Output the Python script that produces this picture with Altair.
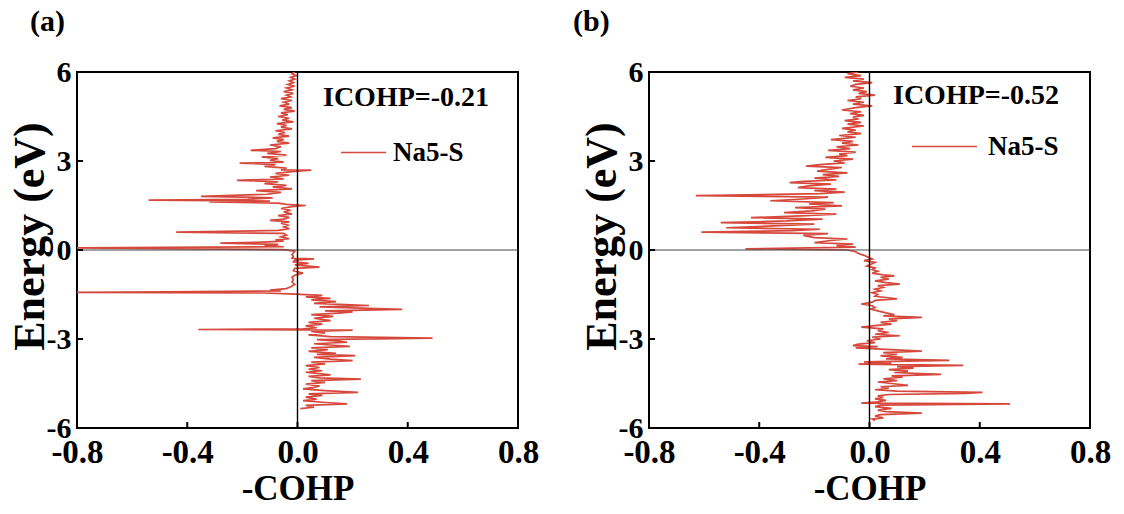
import altair as alt
import pandas as pd

# ---------------- data ----------------
energy_a = [6.00, 5.94, 5.88, 5.82, 5.76, 5.70, 5.64, 5.58, 5.52, 5.46, 5.40, 5.34, 5.28, 5.22, 5.16, 5.10,
            5.04, 4.98, 4.92, 4.86, 4.80, 4.74, 4.68, 4.62, 4.56, 4.50, 4.44, 4.38, 4.32, 4.26, 4.20, 4.14,
            4.08, 4.02, 3.96, 3.90, 3.84, 3.78, 3.72, 3.66, 3.60, 3.54, 3.48, 3.42, 3.36, 3.32, 3.26, 3.20,
            3.14, 3.08, 3.02, 2.96, 2.93, 2.88, 2.82, 2.76, 2.70, 2.69, 2.64, 2.58, 2.52, 2.46, 2.40, 2.35,
            2.30, 2.24, 2.18, 2.12, 2.06, 2.00, 1.94, 1.88, 1.81, 1.76, 1.71, 1.68, 1.65, 1.62, 1.58, 1.54,
            1.50, 1.46, 1.40, 1.34, 1.28, 1.22, 1.16, 1.10, 1.04, 1.00, 0.95, 0.90, 0.84, 0.78, 0.72, 0.66,
            0.60, 0.56, 0.50, 0.44, 0.38, 0.34, 0.30, 0.26, 0.23, 0.19, 0.15, 0.11, 0.07, 0.04, 0.01, -0.04,
            -0.10, -0.16, -0.22, -0.28, -0.30, -0.34, -0.40, -0.45, -0.50, -0.58, -0.62, -0.70, -0.78, -0.85,
            -0.92, -1.00, -1.08, -1.16, -1.24, -1.30, -1.35, -1.38, -1.41, -1.43, -1.45, -1.48, -1.53, -1.58,
            -1.63, -1.68, -1.74, -1.80, -1.87, -1.92, -2.00, -2.05, -2.09, -2.13, -2.18, -2.24, -2.30, -2.38,
            -2.44, -2.50, -2.56, -2.62, -2.66, -2.68, -2.70, -2.74, -2.80, -2.86, -2.92, -2.97, -3.02, -3.07,
            -3.11, -3.16, -3.21, -3.25, -3.30, -3.36, -3.42, -3.48, -3.52, -3.56, -3.62, -3.68, -3.73, -3.78,
            -3.84, -3.90, -3.96, -4.02, -4.07, -4.12, -4.16, -4.21, -4.26, -4.31, -4.35, -4.40, -4.46, -4.52,
            -4.58, -4.63, -4.68, -4.74, -4.80, -4.85, -4.90, -4.96, -5.03, -5.08, -5.14, -5.19, -5.24, -5.30,
            -5.35]
cohp_a = [-0.010, -0.020, -0.005, -0.025, -0.010, -0.030, -0.015, -0.035, -0.010, -0.040, -0.020, -0.050,
          -0.015, -0.040, -0.025, -0.060, -0.020, -0.050, -0.030, -0.065, -0.020, -0.050, -0.010, -0.060,
          -0.035, -0.070, -0.030, -0.055, -0.015, -0.075, -0.040, -0.060, -0.020, -0.080, -0.045, -0.070,
          -0.030, -0.090, -0.050, -0.075, -0.030, -0.100, -0.060, -0.080, -0.170, -0.060, -0.110, -0.040,
          -0.130, -0.070, -0.100, -0.050, -0.210, -0.080, -0.120, -0.040, -0.060, 0.050, -0.020, -0.080,
          -0.030, -0.100, -0.050, -0.220, -0.070, -0.120, -0.040, -0.090, -0.020, -0.150, -0.060, -0.110,
          -0.350, -0.090, -0.180, -0.540, -0.100, -0.320, -0.070, -0.040, 0.030, -0.020, -0.060, -0.025,
          -0.050, -0.020, -0.070, -0.030, -0.050, -0.100, -0.030, -0.060, -0.035, -0.050, -0.030, -0.070,
          -0.440, -0.050, -0.040, -0.060, -0.030, -0.080, -0.050, -0.150, -0.280, -0.070, -0.120, -0.050,
          -0.850, -0.400, -0.050, -0.010, -0.015, -0.020, -0.015, -0.020, 0.060, -0.010, -0.015, 0.040,
          -0.010, 0.080, -0.010, -0.015, 0.020, -0.010, -0.020, -0.015, -0.020, -0.010, -0.025, -0.040,
          -0.100, -0.060, -0.470, -0.850, -0.120, -0.030, 0.090, 0.030, 0.120, 0.050, 0.140, 0.060,
          0.260, 0.080, 0.380, 0.100, 0.200, 0.150, 0.050, 0.130, 0.060, 0.120, 0.040, 0.090,
          0.030, 0.070, 0.020, -0.360, 0.200, 0.050, 0.100, 0.040, 0.120, 0.490, 0.070, 0.150,
          0.180, 0.060, 0.130, 0.190, 0.050, 0.110, 0.040, 0.140, 0.070, 0.210, 0.060, 0.120,
          0.200, 0.050, 0.100, 0.030, 0.080, 0.040, 0.090, 0.030, 0.070, 0.120, 0.040, 0.080,
          0.230, 0.050, 0.100, 0.030, 0.080, 0.060, 0.020, 0.100, 0.220, 0.040, 0.090, 0.030,
          0.070, 0.020, 0.100, 0.180, 0.030, 0.060, 0.010]

energy_b = [6.00, 5.94, 5.88, 5.82, 5.76, 5.70, 5.64, 5.58, 5.52, 5.46, 5.40, 5.34, 5.28, 5.22, 5.16, 5.10,
            5.04, 4.98, 4.92, 4.86, 4.80, 4.72, 4.66, 4.60, 4.54, 4.48, 4.42, 4.36, 4.30, 4.24, 4.18, 4.10,
            4.04, 3.98, 3.92, 3.86, 3.80, 3.72, 3.66, 3.60, 3.54, 3.48, 3.42, 3.36, 3.30, 3.24, 3.18, 3.12,
            3.06, 3.00, 2.94, 2.88, 2.83, 2.78, 2.72, 2.66, 2.60, 2.54, 2.48, 2.42, 2.36, 2.31, 2.27, 2.22,
            2.16, 2.10, 2.05, 2.00, 1.95, 1.90, 1.83, 1.78, 1.72, 1.66, 1.60, 1.55, 1.49, 1.43, 1.38, 1.32,
            1.26, 1.21, 1.15, 1.09, 1.04, 0.98, 0.92, 0.87, 0.81, 0.75, 0.70, 0.65, 0.60, 0.55, 0.49, 0.42,
            0.37, 0.32, 0.25, 0.20, 0.15, 0.10, 0.04, 0.00, -0.06, -0.12, -0.18, -0.24, -0.30, -0.36, -0.42,
            -0.48, -0.54, -0.60, -0.66, -0.72, -0.78, -0.84, -0.87, -0.92, -0.98, -1.04, -1.10, -1.15, -1.20,
            -1.26, -1.32, -1.38, -1.44, -1.50, -1.56, -1.65, -1.70, -1.76, -1.82, -1.88, -1.94, -1.99, -2.05,
            -2.12, -2.18, -2.22, -2.27, -2.32, -2.38, -2.44, -2.50, -2.55, -2.60, -2.66, -2.72, -2.78, -2.84,
            -2.89, -2.94, -3.00, -3.06, -3.12, -3.17, -3.22, -3.26, -3.30, -3.35, -3.41, -3.46, -3.52, -3.57,
            -3.62, -3.67, -3.72, -3.77, -3.81, -3.85, -3.89, -3.93, -3.98, -4.03, -4.08, -4.13, -4.19, -4.24,
            -4.29, -4.34, -4.40, -4.45, -4.50, -4.56, -4.61, -4.66, -4.71, -4.76, -4.80, -4.83, -4.87, -4.92,
            -4.97, -5.02, -5.07, -5.12, -5.16, -5.19, -5.23, -5.28, -5.34, -5.40, -5.45, -5.50, -5.55, -5.60,
            -5.66, -5.70, -5.75]
cohp_b = [-0.040, -0.080, -0.030, -0.090, -0.020, -0.060, 0.010, -0.050, -0.070, -0.020, -0.060, -0.010,
          -0.040, 0.020, -0.050, -0.030, -0.080, -0.020, -0.060, 0.010, -0.050, -0.100, -0.030, -0.070,
          -0.020, -0.060, -0.040, -0.090, -0.030, -0.080, -0.020, -0.100, -0.050, -0.080, -0.030, -0.110,
          -0.050, -0.140, -0.060, -0.100, -0.040, -0.120, -0.070, -0.150, -0.050, -0.110, -0.080, -0.160,
          -0.060, -0.130, -0.090, -0.180, -0.230, -0.100, -0.150, -0.190, -0.080, -0.170, -0.110, -0.200,
          -0.120, -0.240, -0.290, -0.140, -0.220, -0.260, -0.120, -0.200, -0.090, -0.180, -0.630, -0.150,
          -0.240, -0.360, -0.130, -0.220, -0.100, -0.270, -0.160, -0.210, -0.310, -0.120, -0.250, -0.430,
          -0.170, -0.300, -0.540, -0.200, -0.350, -0.520, -0.180, -0.280, -0.610, -0.150, -0.240, -0.200,
          -0.080, -0.140, -0.200, -0.060, -0.120, -0.050, -0.450, -0.080, -0.050, -0.040, -0.020, -0.005,
          0.010, -0.020, 0.020, 0.005, -0.010, 0.020, 0.010, 0.030, 0.010, 0.050, 0.090, 0.040,
          0.070, 0.020, 0.060, 0.110, 0.030, 0.050, 0.020, 0.040, 0.010, 0.030, 0.020, 0.100,
          0.020, 0.010, -0.030, 0.010, 0.020, 0.005, 0.030, 0.060, 0.090, 0.050, 0.190, 0.070,
          0.100, 0.040, 0.080, 0.020, -0.030, 0.050, 0.030, 0.070, 0.020, 0.110, 0.010, 0.040,
          -0.010, 0.020, -0.040, -0.060, 0.030, -0.050, 0.060, 0.190, 0.050, 0.100, 0.040, 0.120,
          0.060, 0.290, -0.020, 0.080, -0.040, 0.340, 0.100, 0.160, 0.070, 0.140, 0.090, 0.260,
          0.080, 0.120, 0.050, 0.100, 0.030, 0.080, 0.140, 0.040, 0.070, 0.020, 0.100, 0.410,
          0.350, 0.070, 0.030, 0.050, 0.020, 0.060, 0.030, -0.030, 0.510, 0.040, 0.020, 0.080,
          0.030, 0.060, 0.190, 0.040, 0.020, 0.050, 0.010, 0.020]

x_ticks = [-0.8, -0.4, 0.0, 0.4, 0.8]
y_ticks = [-6, -3, 0, 3, 6]
series_name = "Na5-S"
icohp_texts = ["ICOHP=-0.21", "ICOHP=-0.52"]
panel_labels = ["(a)", "(b)"]

RED = "#d6483c"
FONT = "Liberation Serif"


def panel(energy, cohp, icohp, label, label_dx, sym_len, sym_off, lab_off, legx, legy, tpad):
    df = pd.DataFrame({"E": energy, "C": cohp, "order": list(range(len(energy))),
                       "series": [series_name] * len(energy)})
    xs = alt.Scale(domain=[-0.8, 0.8], nice=False, zero=False)
    ys = alt.Scale(domain=[-6, 6], nice=False, zero=False)
    x_axis = alt.Axis(values=x_ticks, title="-COHP", tickSize=0, ticks=False, domain=False, grid=False,
                      labelExpr="datum.value < 0 ? '-' + format(-datum.value, '.1f') : format(datum.value, '.1f')",
                      labelFontSize=33, labelFontWeight="bold", labelFont=FONT, labelColor="black",
                      labelPadding=8, titleFontSize=35, titleFontWeight="bold", titleFont=FONT,
                      titleColor="black", titlePadding=2, labelFlush=False, labelOverlap=False)
    y_axis = alt.Axis(values=y_ticks, title="Energy (eV)", tickSize=0, ticks=False, domain=False, grid=False,
                      labelExpr="datum.value < 0 ? '-' + format(-datum.value, 'd') : format(datum.value, 'd')",
                      labelFontSize=30, labelFontWeight="bold", labelFont=FONT, labelColor="black",
                      labelPadding=6, titleFontSize=44, titleFontWeight="bold", titleFont=FONT,
                      titleColor="black", titleX=-25, titleY=164, labelFlush=False, labelOverlap=False)

    line = alt.Chart(df).mark_line(strokeWidth=1.7, clip=True).encode(
        x=alt.X("C:Q", scale=xs, axis=x_axis),
        y=alt.Y("E:Q", scale=ys, axis=y_axis),
        order="order:Q",
        color=alt.Color("series:N", scale=alt.Scale(domain=[series_name], range=[RED]),
                        legend=alt.Legend(title=icohp, orient="none", legendX=legx, legendY=legy,
                                          titleFontSize=28, titleFontWeight="bold", titleFont=FONT,
                                          titleColor="black", titlePadding=tpad,
                                          labelFontSize=27, labelFontWeight="bold", labelFont=FONT,
                                          labelColor="black", labelOffset=lab_off,
                                          symbolType="stroke", symbolSize=sym_len * sym_len,
                                          symbolStrokeWidth=1.6, symbolOffset=sym_off,
                                          padding=0)),
    )

    zero = pd.DataFrame({"v": [0.0]})
    hline = alt.Chart(zero).mark_rule(color="#444444", strokeWidth=1.2).encode(
        y=alt.Y("v:Q", scale=ys, axis=y_axis))
    vline = alt.Chart(zero).mark_rule(color="black", strokeWidth=1.4).encode(
        x=alt.X("v:Q", scale=xs, axis=x_axis))

    xt = alt.Chart(pd.DataFrame({"t": x_ticks})).mark_rule(color="black", strokeWidth=2).encode(
        x=alt.X("t:Q", scale=xs, axis=x_axis), y=alt.datum(-6), y2=alt.datum(-5.8))
    yt = alt.Chart(pd.DataFrame({"t": y_ticks})).mark_rule(color="black", strokeWidth=2).encode(
        y=alt.Y("t:Q", scale=ys, axis=y_axis), x=alt.datum(-0.8), x2=alt.datum(-0.778))

    return alt.layer(line, hline, vline, xt, yt).properties(
        width=441, height=356,
        title=alt.TitleParams(label, anchor="start", frame="group", dx=label_dx, offset=20,
                              fontSize=30, fontWeight="bold", font=FONT, color="black"),
    )


pa = panel(energy_a, cohp_a, icohp_texts[0], panel_labels[0], -47, 45, 17, 6, 246, 12, 17)
pb = panel(energy_b, cohp_b, icohp_texts[1], panel_labels[1], -76, 65, 18, 10, 244, 10, 3)

chart = alt.hconcat(pa, pb, spacing=32).resolve_scale(color="independent").resolve_legend(
    color="independent"
).properties(
    padding={"left": 6, "top": 6, "right": 5, "bottom": 5}
).configure(font=FONT, background="white",
            view=alt.ViewConfig(stroke="black", strokeWidth=2))

chart.save("out.html", embed_options={"renderer": "svg", "actions": False})
